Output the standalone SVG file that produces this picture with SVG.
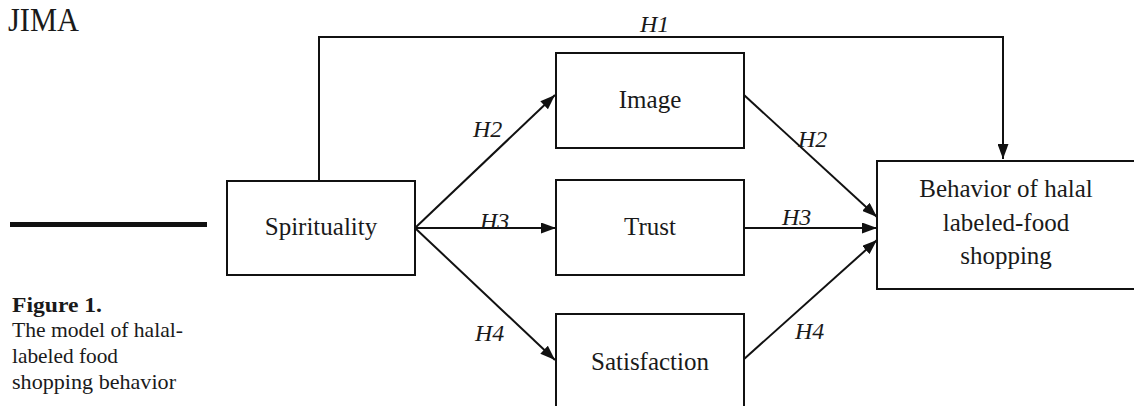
<svg xmlns="http://www.w3.org/2000/svg" width="1134" height="406" viewBox="0 0 1134 406">
<style>
text{font-family:'Liberation Serif','DejaVu Serif',serif;fill:#1a1a1a}
.box{fill:#fff;stroke:#111;stroke-width:2}
.n{font-size:25px;text-anchor:middle}
.h{font-size:24px;font-style:italic}
.cap{font-size:21.5px}
.edge{stroke:#111;stroke-width:2;fill:none}
</style>
<defs>
<marker id="ah" viewBox="0 0 15 11" refX="15" refY="5.5" markerWidth="15" markerHeight="11" markerUnits="userSpaceOnUse" orient="auto">
<path d="M0,0 L15,5.5 L0,11 Z" fill="#111"/>
</marker>
</defs>
<rect width="1134" height="406" fill="#fff"/>
<text x="8" y="31" style="font-size:33px" textLength="71" lengthAdjust="spacingAndGlyphs">JIMA</text>
<rect x="10" y="222" width="197" height="5" fill="#111"/>
<g id="caption">
<text x="12" y="312" class="cap" style="font-weight:bold" textLength="90" lengthAdjust="spacingAndGlyphs">Figure 1.</text>
<text x="12" y="337" class="cap" textLength="171" lengthAdjust="spacingAndGlyphs">The model of halal-</text>
<text x="12" y="363" class="cap" textLength="106" lengthAdjust="spacingAndGlyphs">labeled food</text>
<text x="12" y="389" class="cap" textLength="164" lengthAdjust="spacingAndGlyphs">shopping behavior</text>
</g>
<g id="connectors">
<path class="edge" d="M319,181 V37 H1003 V159" marker-end="url(#ah)"/>
<line class="edge" x1="415" y1="228" x2="555" y2="95" marker-end="url(#ah)"/>
<line class="edge" x1="415" y1="228" x2="556" y2="228" marker-end="url(#ah)"/>
<line class="edge" x1="415" y1="228" x2="555" y2="360" marker-end="url(#ah)"/>
<line class="edge" x1="744" y1="95" x2="877" y2="217" marker-end="url(#ah)"/>
<line class="edge" x1="744" y1="228" x2="877" y2="228" marker-end="url(#ah)"/>
<line class="edge" x1="743" y1="360" x2="877" y2="240" marker-end="url(#ah)"/>
<text x="640" y="32" class="h">H1</text>
<text x="473" y="137" class="h">H2</text>
<text x="480" y="229" class="h">H3</text>
<text x="475" y="341" class="h">H4</text>
<text x="798" y="147" class="h">H2</text>
<text x="782" y="225" class="h">H3</text>
<text x="795" y="339" class="h">H4</text>
</g>
<g id="spirituality">
<rect class="box" x="227" y="181" width="188" height="94"/>
<text x="321" y="235" class="n">Spirituality</text>
</g>
<g id="image">
<rect class="box" x="556" y="53" width="188" height="95"/>
<text x="650" y="108" class="n">Image</text>
</g>
<g id="trust">
<rect class="box" x="556" y="180" width="188" height="95"/>
<text x="650" y="235" class="n">Trust</text>
</g>
<g id="satisfaction">
<rect class="box" x="556" y="314" width="188" height="100"/>
<text x="650" y="370" class="n">Satisfaction</text>
</g>
<g id="behavior">
<rect class="box" x="877" y="161" width="265" height="128"/>
<text x="1006" y="197" class="n">Behavior of halal</text>
<text x="1006" y="231" class="n">labeled-food</text>
<text x="1006" y="264" class="n">shopping</text>
</g>
</svg>
